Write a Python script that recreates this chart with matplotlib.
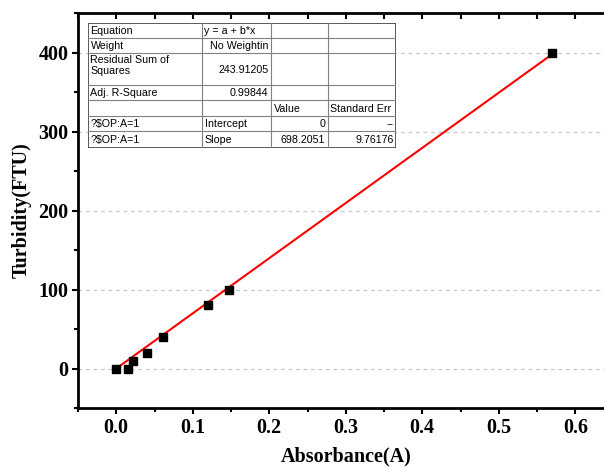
import matplotlib.pyplot as plt
from matplotlib.ticker import MultipleLocator

# calibration points
absorbance = [0.0, 0.016, 0.022, 0.040, 0.061, 0.120, 0.147, 0.569]
turbidity = [0, 0, 10, 20, 40, 80, 100, 400]

# linear fit reported in the table
intercept = 0.0
slope = 698.2051

table_rows = [
    ["Equation", "y = a + b*x", "", ""],
    ["Weight", "No Weightin", "", ""],
    ["Residual Sum of\nSquares", "243.91205", "", ""],
    ["Adj. R-Square", "0.99844", "", ""],
    ["", "", "Value", "Standard Err"],
    ["?$OP:A=1", "Intercept", "0", "--"],
    ["?$OP:A=1", "Slope", "698.2051", "9.76176"],
]
# alignment of each cell: l = left, r = right
table_align = [
    ["l", "l", "l", "l"],
    ["l", "r", "l", "l"],
    ["l", "r", "l", "l"],
    ["l", "r", "l", "l"],
    ["l", "l", "l", "l"],
    ["l", "l", "r", "r"],
    ["l", "l", "r", "r"],
]

W, H = 604, 468
fig = plt.figure(figsize=(W / 100, H / 100), dpi=100)

# axes runs past the right edge of the picture, like the original
ax = fig.add_axes([78 / W, 60 / H, 535.5 / W, 395 / H])

ax.set_xlim(-0.05, 0.65)
ax.set_ylim(-50, 450)

ax.yaxis.grid(True, color='#c8c8c8', linestyle=(0, (3, 3)), linewidth=0.9)
ax.set_axisbelow(True)

xs = [0.0, max(absorbance)]
ax.plot(xs, [intercept + slope * x for x in xs], color='red', linewidth=1.5, zorder=3)
ax.plot(absorbance, turbidity, linestyle='none', marker='s', markersize=6.3,
        color='black', zorder=4)

ax.xaxis.set_minor_locator(MultipleLocator(0.05))
ax.yaxis.set_minor_locator(MultipleLocator(50))
ax.set_xticks([0.0, 0.1, 0.2, 0.3, 0.4, 0.5, 0.6])
ax.set_yticks([0, 100, 200, 300, 400])

serif = ['Liberation Serif', 'DejaVu Serif']
ax.set_xticklabels([f"{v:.1f}" for v in ax.get_xticks()], family=serif,
                   fontweight='bold', fontsize=14.5)
ax.set_yticklabels([str(int(v)) for v in ax.get_yticks()], family=serif,
                   fontweight='bold', fontsize=14.5)

ax.tick_params(axis='both', which='major', direction='out', length=4, width=1.5,
               pad=3)
ax.tick_params(axis='both', which='minor', direction='out', length=3, width=1.5)
ax.tick_params(axis='x', which='both', top=True)
# top ticks point inwards
for t in ax.xaxis.get_major_ticks() + ax.xaxis.get_minor_ticks():
    t.tick2line.set_marker(3)
    t.tick2line.set_markersize(4)

for s in ax.spines.values():
    s.set_linewidth(2)

ax.set_xlabel("Absorbance(A)", family=serif, fontweight='bold', fontsize=14.5, labelpad=6)
ax.set_ylabel("Turbidity(FTU)", family=serif, fontweight='bold', fontsize=14.5, labelpad=5)

# results table in pixel coordinates
tx0, ty0, tx1, ty1 = 88, 23.3, 396, 147.7
tab = fig.add_axes([tx0 / W, 1 - ty1 / H, (tx1 - tx0) / W, (ty1 - ty0) / H])
tab.set_xlim(0, tx1 - tx0)
tab.set_ylim(ty1 - ty0, 0)
tab.axis('off')
tab.add_patch(plt.Rectangle((0, 0), tx1 - tx0, ty1 - ty0, facecolor='white',
                            edgecolor='#404040', linewidth=1.2))
col_edges = [0, 114, 183, 239.5, 308]
row_edges = [0, 15, 30, 61.7, 76.7, 92.7, 107.7, 124.4]
for c in col_edges[1:-1]:
    tab.plot([c, c], [0, row_edges[-1]], color='#808080', linewidth=0.8)
for r in row_edges[1:-1]:
    tab.plot([0, col_edges[-1]], [r, r], color='#808080', linewidth=0.8)

sans = ['Liberation Sans', 'DejaVu Sans']
for i, row in enumerate(table_rows):
    for j, txt in enumerate(row):
        if not txt:
            continue
        if table_align[i][j] == 'l':
            x, ha = col_edges[j] + 2.5, 'left'
        else:
            x, ha = col_edges[j + 1] - 2.5, 'right'
        if '\n' in txt:
            y, va = row_edges[i] + 1.5, 'top'
        else:
            y, va = (row_edges[i] + row_edges[i + 1]) / 2 + 0.5, 'center'
        tab.text(x, y, txt, ha=ha, va=va, family=sans, fontsize=7.7,
                 linespacing=1.15, clip_on=True, parse_math=False)

fig.savefig("out.png", dpi=100)
